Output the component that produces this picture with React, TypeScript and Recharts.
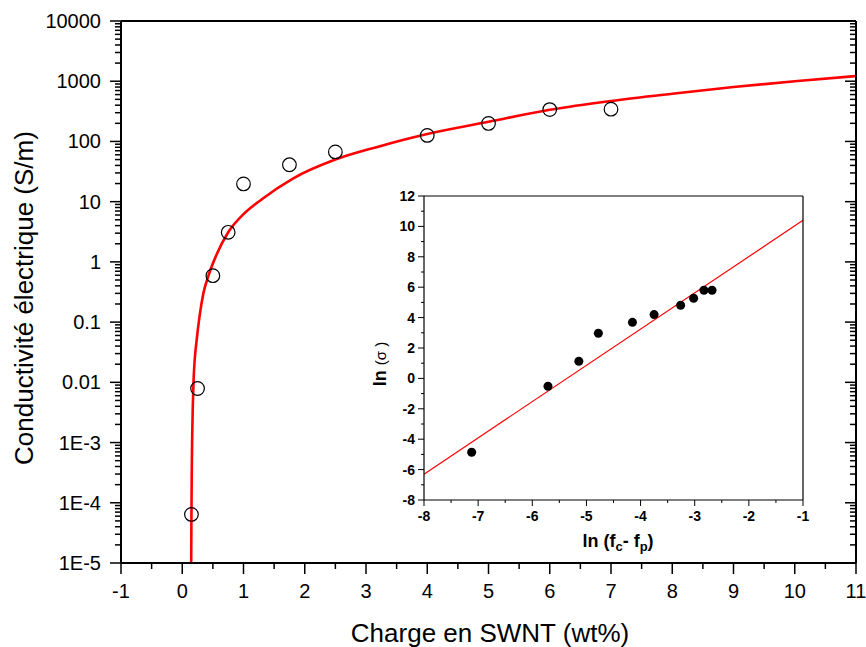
import React from "react";
import { ComposedChart, Line, Scatter, XAxis, YAxis } from "recharts";

const FONT = '"Liberation Sans", Arial, Helvetica, sans-serif';

// main plot: measured conductivity vs SWNT loading
const chargeWt = [0.15, 0.25, 0.5, 0.75, 1.0, 1.75, 2.5, 4, 5, 6, 7];
const conductivity = [6.4e-5, 0.0079, 0.59, 3.1, 19.7, 41, 67, 126, 199, 338, 343];

// fitted percolation curve
const fitX = [
  0.146, 0.149, 0.152, 0.156, 0.162, 0.172, 0.185, 0.205, 0.23, 0.28, 0.345, 0.43, 0.55,
  0.75, 1.0, 1.3, 1.8, 2.5, 3.2, 4.0, 5.0, 6.0, 7.0, 8.0, 9.0, 10.0, 11.0,
];
const fitY = [
  1e-5, 4e-5, 1.2e-4, 4e-4, 1.2e-3, 4e-3, 0.011, 0.025, 0.045, 0.12, 0.3, 0.6, 1.25,
  3.1, 6.2, 11, 24, 50, 82, 133, 212, 335, 470, 620, 800, 1000, 1220,
];

// inset: ln(sigma) vs ln(fc - fp)
const lnF = [-7.12, -5.71, -5.14, -4.78, -4.15, -3.75, -3.26, -3.02, -2.83, -2.68];
const lnSigma = [-4.86, -0.52, 1.13, 2.97, 3.69, 4.2, 4.81, 5.27, 5.8, 5.8];
const lnFitX = [-8, -1];
const lnFitY = [-6.3, 10.4];

// axis ticks
const xTicks = [-1, -0.5, 0, 0.5, 1, 1.5, 2, 2.5, 3, 3.5, 4, 4.5, 5, 5.5, 6, 6.5, 7, 7.5, 8, 8.5, 9, 9.5, 10, 10.5, 11];
const decades = [1e-5, 1e-4, 1e-3, 0.01, 0.1, 1, 10, 100, 1000, 10000];
const decadeLabels = ["1E-5", "1E-4", "1E-3", "0.01", "0.1", "1", "10", "100", "1000", "10000"];
const minorMult = [2, 3, 4, 5, 6, 7, 8, 9];

const insetXTicks = [-8, -7.5, -7, -6.5, -6, -5.5, -5, -4.5, -4, -3.5, -3, -2.5, -2, -1.5, -1];
const insetYTicks = [-8, -7, -6, -5, -4, -3, -2, -1, 0, 1, 2, 3, 4, 5, 6, 7, 8, 9, 10, 11, 12];

const pts = chargeWt.map((x, i) => ({ x, y: conductivity[i] }));
const fit = fitX.map((x, i) => ({ x, y: fitY[i] }));
const insetPts = lnF.map((x, i) => ({ x, y: lnSigma[i] }));
const insetFit = lnFitX.map((x, i) => ({ x, y: lnFitY[i] }));

const W = 866;
const H = 647;
const TOP = 21;
const BOTTOM_AXIS = 84;
const DECADE_PX = (H - TOP - BOTTOM_AXIS) / (decades.length - 1);

function decadeIndex(v: number) {
  return decades.findIndex((d) => Math.abs(v / d - 1) < 1e-6);
}

function XTick(props: any) {
  const { x, y, payload, side } = props;
  const v = payload.value;
  const major = Math.abs(v - Math.round(v)) < 1e-6;
  const len = major ? 11 : 6;
  return (
    <g>
      <path d={`M${x},${y}V${y + len}`} stroke="#000" strokeWidth={1.5} fill="none" />
      {side === "bottom" && major && (
        <text x={x} y={y + 35} textAnchor="middle" fontSize={20} fontFamily={FONT} fill="#000">
          {v}
        </text>
      )}
    </g>
  );
}

// left log axis: decade tick line from recharts (tickSize 11, margin 9),
// here the label and the minor ticks 2..9 of the decade above
function YLeftTick(props: any) {
  const { x, y, payload } = props;
  const idx = decadeIndex(payload.value);
  const ax = x + 20;
  const minors = idx >= 0 && idx < decades.length - 1 ? minorMult : [];
  return (
    <g>
      {minors.map((m) => {
        const my = y - Math.log10(m) * DECADE_PX;
        return <path key={m} d={`M${ax - 6},${my}H${ax}`} stroke="#000" strokeWidth={1.5} fill="none" />;
      })}
      <text x={x} y={y + 7} textAnchor="end" fontSize={20} fontFamily={FONT} fill="#000">
        {decadeLabels[idx]}
      </text>
    </g>
  );
}

// right log axis: ticks point inward
function YRightTick(props: any) {
  const { x, y, payload } = props;
  const idx = decadeIndex(payload.value);
  const minors = idx >= 0 && idx < decades.length - 1 ? minorMult : [];
  return (
    <g>
      <path d={`M${x - 11},${y}H${x}`} stroke="#000" strokeWidth={1.5} fill="none" />
      {minors.map((m) => {
        const my = y - Math.log10(m) * DECADE_PX;
        return <path key={m} d={`M${x - 6},${my}H${x}`} stroke="#000" strokeWidth={1.5} fill="none" />;
      })}
    </g>
  );
}

function InsetXTick(props: any) {
  const { x, y, payload, side } = props;
  const v = payload.value;
  const major = Math.abs(v - Math.round(v)) < 1e-6;
  const len = major ? 6 : 3;
  return (
    <g>
      <path d={`M${x},${y}V${y + len}`} stroke="#000" strokeWidth={1} fill="none" />
      {side === "bottom" && major && (
        <text x={x} y={y + 21} textAnchor="middle" fontSize={14} fontWeight="bold" fontFamily={FONT} fill="#000">
          {v}
        </text>
      )}
    </g>
  );
}

function InsetYTick(props: any) {
  const { x, y, payload, side } = props;
  const v = payload.value;
  const major = v % 2 === 0;
  const len = major ? 6 : 3;
  return (
    <g>
      <path d={`M${x - len},${y}H${x}`} stroke="#000" strokeWidth={1} fill="none" />
      {side === "left" && major && (
        <text x={x - 9} y={y + 5} textAnchor="end" fontSize={14} fontWeight="bold" fontFamily={FONT} fill="#000">
          {v}
        </text>
      )}
    </g>
  );
}

const axisLine = { stroke: "#000", strokeWidth: 2 };
const insetAxisLine = { stroke: "#000", strokeWidth: 1.2 };

function Inset() {
  return (
    <div style={{ position: "absolute", left: 360, top: 180, width: 460, height: 380 }}>
      <ComposedChart width={460} height={380} margin={{ top: 0, right: 0, bottom: 0, left: 0 }}>
        <XAxis
          xAxisId="b"
          dataKey="x"
          type="number"
          domain={[-8, -1]}
          ticks={insetXTicks}
          interval={0}
          height={60}
          axisLine={insetAxisLine}
          tickLine={false}
          tickSize={0}
          tickMargin={0}
          tick={(p: any) => <InsetXTick {...p} side="bottom" />}
          label={{
            content: () => (
              <text x={258} y={367} textAnchor="middle" fontSize={18} fontWeight="bold" fontFamily={FONT} fill="#000">
                ln (f
                <tspan fontSize={13} dy={4}>c</tspan>
                <tspan dy={-4}>- f</tspan>
                <tspan fontSize={13} dy={4}>p</tspan>
                <tspan dy={-4}>)</tspan>
              </text>
            ),
          }}
        />
        <XAxis
          xAxisId="t"
          dataKey="x"
          type="number"
          orientation="top"
          domain={[-8, -1]}
          ticks={insetXTicks}
          interval={0}
          height={16}
          axisLine={insetAxisLine}
          tickLine={false}
          tickSize={0}
          tickMargin={0}
          tick={(p: any) => <InsetXTick {...p} side="top" />}
        />
        <YAxis
          yAxisId="l"
          dataKey="y"
          type="number"
          domain={[-8, 12]}
          ticks={insetYTicks}
          interval={0}
          width={64}
          axisLine={insetAxisLine}
          tickLine={false}
          tickSize={0}
          tickMargin={0}
          tick={(p: any) => <InsetYTick {...p} side="left" />}
          label={{
            content: () => (
              <text
                x={26}
                y={184}
                transform="rotate(-90, 26, 184)"
                textAnchor="middle"
                fontFamily={FONT}
                fill="#000"
              >
                <tspan fontSize={18} fontWeight="bold">ln </tspan>
                <tspan fontSize={15}>(σ )</tspan>
              </text>
            ),
          }}
        />
        <YAxis
          yAxisId="r"
          orientation="right"
          type="number"
          domain={[-8, 12]}
          ticks={insetYTicks}
          interval={0}
          width={17}
          axisLine={insetAxisLine}
          tickLine={false}
          tickSize={0}
          tickMargin={0}
          tick={(p: any) => <InsetYTick {...p} side="right" />}
        />
        <Line
          xAxisId="b"
          yAxisId="l"
          data={insetFit}
          dataKey="y"
          type="linear"
          stroke="#ff0000"
          strokeWidth={1.2}
          dot={false}
          isAnimationActive={false}
        />
        <Scatter
          xAxisId="b"
          yAxisId="l"
          data={insetPts}
          fill="#000"
          isAnimationActive={false}
          shape={(p: any) => <circle cx={p.cx} cy={p.cy} r={4.5} fill="#000" />}
        />
      </ComposedChart>
    </div>
  );
}

export default function App() {
  return (
    <div style={{ position: "absolute", left: 0, top: 0, width: W, height: H, background: "#fff" }}>
      <ComposedChart width={W} height={H} margin={{ top: 0, right: 0, bottom: 0, left: 0 }}>
        <XAxis
          xAxisId="b"
          dataKey="x"
          type="number"
          domain={[-1, 11]}
          ticks={xTicks}
          interval={0}
          height={BOTTOM_AXIS}
          axisLine={axisLine}
          tickLine={false}
          tickSize={0}
          tickMargin={0}
          tick={(p: any) => <XTick {...p} side="bottom" />}
          label={{
            content: () => (
              <text x={490} y={642} textAnchor="middle" fontSize={26} fontFamily={FONT} fill="#000">
                Charge en SWNT (wt%)
              </text>
            ),
          }}
        />
        <XAxis
          xAxisId="t"
          dataKey="x"
          type="number"
          orientation="top"
          domain={[-1, 11]}
          ticks={xTicks}
          interval={0}
          height={TOP}
          axisLine={axisLine}
          tickLine={false}
          tickSize={0}
          tickMargin={0}
          tick={(p: any) => <XTick {...p} side="top" />}
        />
        <YAxis
          yAxisId="l"
          dataKey="y"
          type="number"
          scale="log"
          domain={[1e-5, 10000]}
          allowDataOverflow
          ticks={decades}
          interval={0}
          width={121}
          axisLine={axisLine}
          tickLine={{ stroke: "#000", strokeWidth: 1.5 }}
          tickSize={11}
          tickMargin={9}
          tick={(p: any) => <YLeftTick {...p} />}
          label={{
            content: () => (
              <text
                x={33}
                y={298}
                transform="rotate(-90, 33, 298)"
                textAnchor="middle"
                fontSize={26}
                fontFamily={FONT}
                fill="#000"
              >
                Conductivité électrique (S/m)
              </text>
            ),
          }}
        />
        <YAxis
          yAxisId="r"
          orientation="right"
          type="number"
          scale="log"
          domain={[1e-5, 10000]}
          allowDataOverflow
          ticks={decades}
          interval={0}
          width={10}
          axisLine={axisLine}
          tickLine={false}
          tickSize={0}
          tickMargin={0}
          tick={(p: any) => <YRightTick {...p} />}
        />
        <Line
          xAxisId="b"
          yAxisId="l"
          data={fit}
          dataKey="y"
          type="monotone"
          stroke="#ff0000"
          strokeWidth={2.6}
          dot={false}
          isAnimationActive={false}
        />
        <Scatter
          xAxisId="b"
          yAxisId="l"
          data={pts}
          fill="none"
          isAnimationActive={false}
          shape={(p: any) => <circle cx={p.cx} cy={p.cy} r={6.8} fill="none" stroke="#000" strokeWidth={1.2} />}
        />
      </ComposedChart>
      <Inset />
    </div>
  );
}
